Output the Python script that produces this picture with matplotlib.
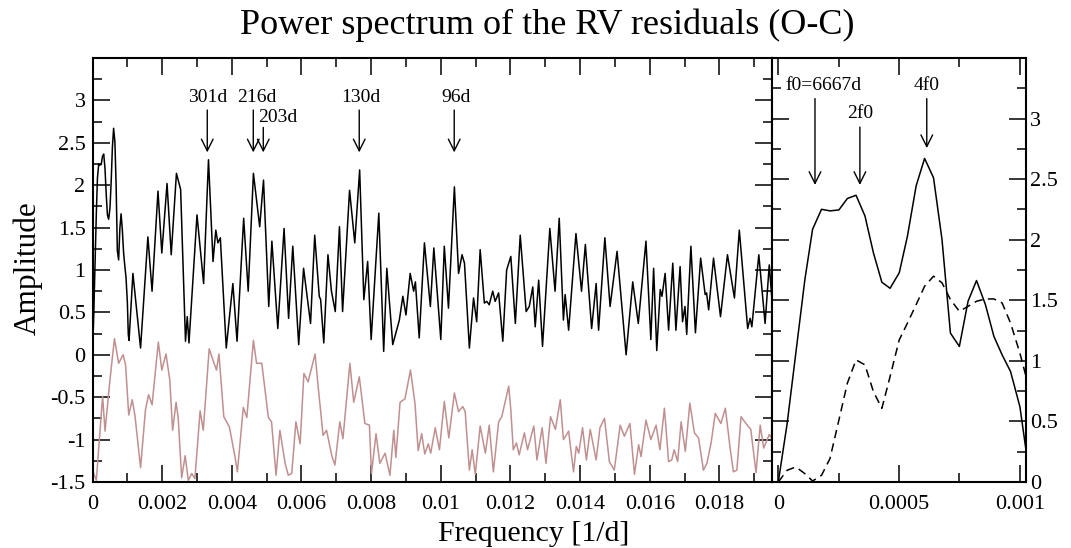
import numpy as np
import matplotlib
matplotlib.use("Agg")
import matplotlib.pyplot as plt
from matplotlib.ticker import MultipleLocator, FuncFormatter

plt.rcParams['font.family'] = ['Liberation Serif', 'DejaVu Serif']

# power spectrum of the O-C residuals (black)
freq = [0.0, 3.67e-5, 7.27e-5, 1.101e-4, 1.42e-4, 1.79e-4, 2.14e-4, 2.51e-4, 2.86e-4, 3.22e-4,
        3.59e-4, 3.94e-4, 4.29e-4, 4.63e-4, 5.01e-4, 5.35e-4, 5.71e-4, 6.06e-4, 6.43e-4, 6.78e-4,
        7.13e-4, 7.50e-4, 7.86e-4, 8.21e-4, 8.58e-4, 8.93e-4, 9.27e-4, 9.62e-4, 1.0007e-3, 1.028e-3,
        0.00105, 0.00116, 0.00138, 0.00159, 0.00171, 0.00188, 0.00199, 0.00214, 0.00226, 0.00241,
        0.00253, 0.00267, 0.00272, 0.00277, 0.00300, 0.00319, 0.00333, 0.00346, 0.00354, 0.00360,
        0.00367, 0.00384, 0.00403, 0.00415, 0.00434, 0.00447, 0.00462, 0.00480, 0.00491, 0.00506,
        0.00515, 0.00532, 0.00550, 0.00563, 0.00575, 0.00592, 0.00606, 0.00626, 0.00638, 0.00651,
        0.00655, 0.00664, 0.00676, 0.00686, 0.00697, 0.00709, 0.00718, 0.00738, 0.00753, 0.00767,
        0.00779, 0.00790, 0.00800, 0.00822, 0.00836, 0.00845, 0.00862, 0.00881, 0.00891, 0.00900,
        0.00912, 0.00922, 0.00927, 0.00938, 0.00953, 0.00970, 0.00980, 0.01000, 0.01010, 0.01022,
        0.01039, 0.01051, 0.01061, 0.01068, 0.01082, 0.01094, 0.01103, 0.01113, 0.01125, 0.01132,
        0.01139, 0.01149, 0.01156, 0.01166, 0.01178, 0.01189, 0.01201, 0.01214, 0.01228, 0.01245,
        0.01254, 0.01264, 0.01271, 0.01281, 0.01292, 0.01313, 0.01328, 0.01340, 0.01352, 0.01357,
        0.01367, 0.01388, 0.01404, 0.01415, 0.01433, 0.01446, 0.01453, 0.01471, 0.01486, 0.01506,
        0.01532, 0.01551, 0.01567, 0.01589, 0.01603, 0.01611, 0.01620, 0.01630, 0.01635, 0.01644,
        0.01654, 0.01666, 0.01675, 0.01687, 0.01694, 0.01701, 0.01706, 0.01718, 0.01731, 0.01746,
        0.01759, 0.01763, 0.01769, 0.01783, 0.01803, 0.01823, 0.01843, 0.01857, 0.01881, 0.01888,
        0.01893, 0.01913, 0.01931, 0.01943, 0.01950]
amp = [0.0, 0.483, 1.064, 1.671, 2.086, 2.251, 2.238, 2.246, 2.340, 2.367,
       2.196, 1.892, 1.649, 1.599, 1.727, 2.030, 2.445, 2.671, 2.511, 2.003,
       1.229, 1.119, 1.492, 1.663, 1.464, 1.202, 1.050, 0.912, 0.622, 0.235,
       0.17, 0.96, 0.08, 1.39, 0.75, 1.93, 1.20, 2.02, 1.18, 2.14,
       1.95, 0.16, 0.45, 0.14, 1.65, 0.84, 2.30, 1.10, 1.47, 1.32,
       1.38, 0.08, 0.84, 0.16, 1.61, 0.75, 2.14, 1.51, 2.06, 0.57,
       1.34, 0.31, 1.49, 0.43, 1.28, 0.12, 1.02, 0.37, 1.41, 0.69,
       0.65, 0.14, 1.18, 0.75, 0.51, 1.51, 0.51, 1.94, 1.32, 2.18,
       0.65, 1.10, 0.18, 1.67, 0.04, 1.02, 0.12, 0.41, 0.69, 0.47,
       0.96, 0.75, 0.86, 0.20, 1.32, 0.57, 1.26, 0.18, 1.28, 0.55,
       1.98, 0.96, 1.18, 1.08, 0.08, 0.67, 0.39, 1.24, 0.61, 0.63,
       0.59, 0.75, 0.63, 0.73, 0.16, 1.00, 1.16, 0.37, 1.41, 0.51,
       0.57, 0.80, 0.33, 0.88, 0.10, 1.49, 0.75, 1.61, 0.41, 0.71,
       0.29, 1.43, 0.75, 1.30, 0.31, 0.84, 0.29, 1.38, 0.57, 1.22,
       0.00, 0.86, 0.37, 1.34, 0.18, 1.02, 0.05, 0.77, 0.69, 0.96,
       0.29, 1.08, 0.29, 1.04, 0.39, 0.57, 0.24, 1.28, 0.26, 1.14,
       0.71, 0.73, 0.53, 1.14, 0.45, 1.18, 0.67, 1.47, 0.31, 0.43,
       0.33, 1.18, 0.37, 1.06, 0.69]

# second spectrum (pink), already shifted down in the original
freq_p = [0.0, 0.00011, 0.00029, 0.00036, 0.00050, 0.00063, 0.00075, 0.00088, 0.00095, 0.00104,
          0.00114, 0.00122, 0.00138, 0.00152, 0.00161, 0.00171, 0.00189, 0.00199, 0.00211, 0.00222,
          0.00230, 0.00240, 0.00246, 0.00256, 0.00266, 0.00275, 0.00285, 0.00294, 0.00309, 0.00318,
          0.00335, 0.00349, 0.00356, 0.00363, 0.00377, 0.00393, 0.00409, 0.00416, 0.00433, 0.00443,
          0.00462, 0.00471, 0.00486, 0.00505, 0.00514, 0.00527, 0.00538, 0.00553, 0.00562, 0.00572,
          0.00584, 0.00596, 0.00607, 0.00619, 0.00639, 0.00648, 0.00662, 0.00672, 0.00687, 0.00696,
          0.00710, 0.00719, 0.00739, 0.00750, 0.00766, 0.00782, 0.00795, 0.00801, 0.00814, 0.00825,
          0.00840, 0.00854, 0.00865, 0.00871, 0.00883, 0.00897, 0.00913, 0.00926, 0.00935, 0.00945,
          0.00954, 0.00964, 0.00971, 0.00984, 0.00996, 0.01010, 0.01023, 0.01039, 0.01051, 0.01063,
          0.01070, 0.01082, 0.01090, 0.01099, 0.01113, 0.01128, 0.01139, 0.01151, 0.01166, 0.01175,
          0.01195, 0.01201, 0.01208, 0.01217, 0.01225, 0.01240, 0.01249, 0.01267, 0.01276, 0.01291,
          0.01302, 0.01315, 0.01329, 0.01343, 0.01352, 0.01367, 0.01381, 0.01389, 0.01396, 0.01407,
          0.01418, 0.01429, 0.01446, 0.01457, 0.01470, 0.01484, 0.01498, 0.01515, 0.01527, 0.01543,
          0.01556, 0.01568, 0.01575, 0.01589, 0.01603, 0.01618, 0.01629, 0.01642, 0.01654, 0.01663,
          0.01670, 0.01680, 0.01690, 0.01702, 0.01715, 0.01728, 0.01740, 0.01754, 0.01764, 0.01776,
          0.01788, 0.01804, 0.01817, 0.01830, 0.01840, 0.01850, 0.01862, 0.01876, 0.01890, 0.01905,
          0.01917, 0.01927, 0.01943, 0.01950]
amp_p = [-1.36, -1.48, -0.49, -0.90, -0.30, 0.19, -0.10, 0.00, -0.12, -0.71,
         -0.53, -0.72, -1.33, -0.65, -0.47, -0.59, 0.15, -0.18, 0.01, -0.30,
         -0.89, -0.56, -0.74, -1.45, -1.19, -1.48, -1.40, -1.46, -0.66, -0.89,
         0.07, -0.10, -0.18, 0.01, -0.73, -0.85, -1.20, -1.38, -0.62, -0.74,
         0.17, -0.10, -0.10, -0.74, -0.79, -1.42, -0.89, -1.28, -1.42, -1.40,
         -0.79, -1.05, -0.22, -0.32, 0.01, -0.38, -0.95, -0.89, -1.19, -1.30,
         -0.79, -0.99, -0.10, -0.56, -0.26, -0.81, -0.83, -1.40, -0.93, -1.28,
         -1.16, -1.42, -0.89, -1.21, -0.56, -0.52, -0.18, -0.58, -1.13, -0.93,
         -1.17, -1.05, -1.16, -0.86, -1.12, -0.55, -0.98, -0.45, -0.67, -0.61,
         -0.67, -1.36, -1.12, -1.41, -0.84, -1.16, -0.83, -1.38, -0.79, -0.73,
         -0.37, -0.65, -1.12, -1.04, -1.18, -0.92, -1.12, -0.84, -1.24, -0.86,
         -1.28, -0.73, -0.88, -0.53, -1.00, -0.90, -1.38, -1.08, -1.16, -0.86,
         -1.24, -0.88, -1.24, -0.86, -0.75, -1.26, -1.36, -0.83, -0.96, -0.81,
         -1.41, -1.06, -1.20, -0.77, -1.00, -0.83, -1.12, -0.63, -1.26, -1.24,
         -1.12, -1.26, -0.79, -1.14, -0.57, -0.92, -0.98, -1.36, -1.28, -1.04,
         -0.69, -0.81, -0.63, -1.08, -1.38, -1.36, -0.73, -0.81, -0.88, -1.39,
         -0.83, -1.10, -0.94, -0.98]

# dashed curve in the zoomed panel
freq_d = [0.0, 3.67e-5, 7.27e-5, 1.101e-4, 1.42e-4, 1.79e-4, 2.14e-4, 2.51e-4, 2.86e-4, 3.22e-4,
          3.59e-4, 3.94e-4, 4.29e-4, 4.63e-4, 5.01e-4, 5.35e-4, 5.71e-4, 6.06e-4, 6.43e-4, 6.78e-4,
          7.13e-4, 7.50e-4, 7.86e-4, 8.21e-4, 8.58e-4, 8.93e-4, 9.27e-4, 9.62e-4, 1.0007e-3, 1.028e-3]
amp_d = [0.0, 0.097, 0.124, 0.069, 0.008, 0.055, 0.193, 0.511, 0.815, 1.008,
         0.967, 0.746, 0.608, 0.870, 1.174, 1.312, 1.464, 1.616, 1.699, 1.644,
         1.506, 1.409, 1.450, 1.492, 1.511, 1.511, 1.478, 1.312, 1.064, 0.856]

# arrows: label, arrow x, arrow top, arrow tip, text x, text y
marks_left = [("301d", 0.003295, 2.886, 2.387, 0.003295, 3.03),
              ("216d", 0.004616, 2.886, 2.387, 0.00471, 3.03),
              ("203d", 0.004903, 2.681, 2.387, 0.00533, 2.80),
              ("130d", 0.007658, 2.886, 2.387, 0.00771, 3.03),
              ("96d", 0.010385, 2.886, 2.387, 0.01044, 3.03)]
marks_right = [("f0=6667d", 0.000152, 3.165, 2.452, 0.000186, 3.27),
               ("2f0", 0.000338, 2.93, 2.452, 0.000341, 3.04),
               ("4f0", 0.000615, 3.165, 2.756, 0.000615, 3.27)]

W, H = 1071, 548
fig = plt.figure(figsize=(W / 100, H / 100), dpi=100)
ax1 = fig.add_axes([92.5 / W, 1 - 482 / H, (771.7 - 92.5) / W, (482 - 58) / H])
ax2 = fig.add_axes([771.7 / W, 1 - 482 / H, (1026 - 771.7) / W, (482 - 58) / H])

pink = '#c09090'
ax1.plot(freq_p, amp_p, color=pink, lw=1.1)
ax1.plot(freq, amp, color='k', lw=1.1)
ax2.plot(freq, amp, color='k', lw=1.1)
ax2.plot(freq_d, amp_d, color='k', lw=1.1, dashes=(5.5, 3.5))

fmt = FuncFormatter(lambda v, p: f'{v:g}')
yfmt = FuncFormatter(lambda v, p: '' if v > 3.4 else f'{v:g}')

ax1.set_xlim(0, 0.0195)
ax1.set_ylim(-1.5, 3.5)
ax1.xaxis.set_major_locator(MultipleLocator(0.002))
ax1.xaxis.set_minor_locator(MultipleLocator(0.001))
ax1.yaxis.set_major_locator(MultipleLocator(0.5))
ax1.yaxis.set_minor_locator(MultipleLocator(0.25))
ax1.xaxis.set_major_formatter(fmt)
ax1.yaxis.set_major_formatter(yfmt)

ax2.set_xlim(-0.0000273, 0.001026)
ax2.set_ylim(0, 3.5)
ax2.xaxis.set_major_locator(MultipleLocator(0.0005))
ax2.xaxis.set_minor_locator(MultipleLocator(0.00025))
ax2.yaxis.set_major_locator(MultipleLocator(0.5))
ax2.yaxis.set_minor_locator(MultipleLocator(0.25))
ax2.xaxis.set_major_formatter(fmt)
ax2.yaxis.set_major_formatter(yfmt)
ax2.yaxis.tick_right()

for ax in (ax1, ax2):
    for s in ax.spines.values():
        s.set_linewidth(1.5)
    ax.tick_params(which='both', direction='in', top=True, bottom=True, left=True, right=True,
                   labelsize=16, width=1.1)
    ax.tick_params(which='major', length=12)
    ax.tick_params(which='minor', length=6.5)
    ax.tick_params(axis='x', pad=9.5)
    ax.tick_params(axis='y', pad=5)
ax2.tick_params(labelleft=False, labelright=True)
ax2.tick_params(axis='y', pad=3)

arrow = dict(arrowstyle='->,head_length=0.7,head_width=0.35', lw=1.0, color='k',
             shrinkA=0, shrinkB=0, mutation_scale=12)
for ax, marks in ((ax1, marks_left), (ax2, marks_right)):
    for lab, xa, ytop, ytip, xt, yt in marks:
        ax.annotate('', xy=(xa, ytip), xytext=(xa, ytop), arrowprops=arrow)
        ax.text(xt, yt, lab, ha='center', va='center', fontsize=14)

fig.text(547 / W, 1 - 25 / H, 'Power spectrum of the RV residuals (O-C)',
         ha='center', va='center', fontsize=26)
fig.text(534 / W, 1 - 541 / H, 'Frequency [1/d]', ha='center', va='baseline', fontsize=21.5)
fig.text(28 / W, 1 - 268 / H, 'Amplitude', ha='center', va='center', rotation=90, fontsize=22.5)

fig.savefig('out.png', dpi=100)
